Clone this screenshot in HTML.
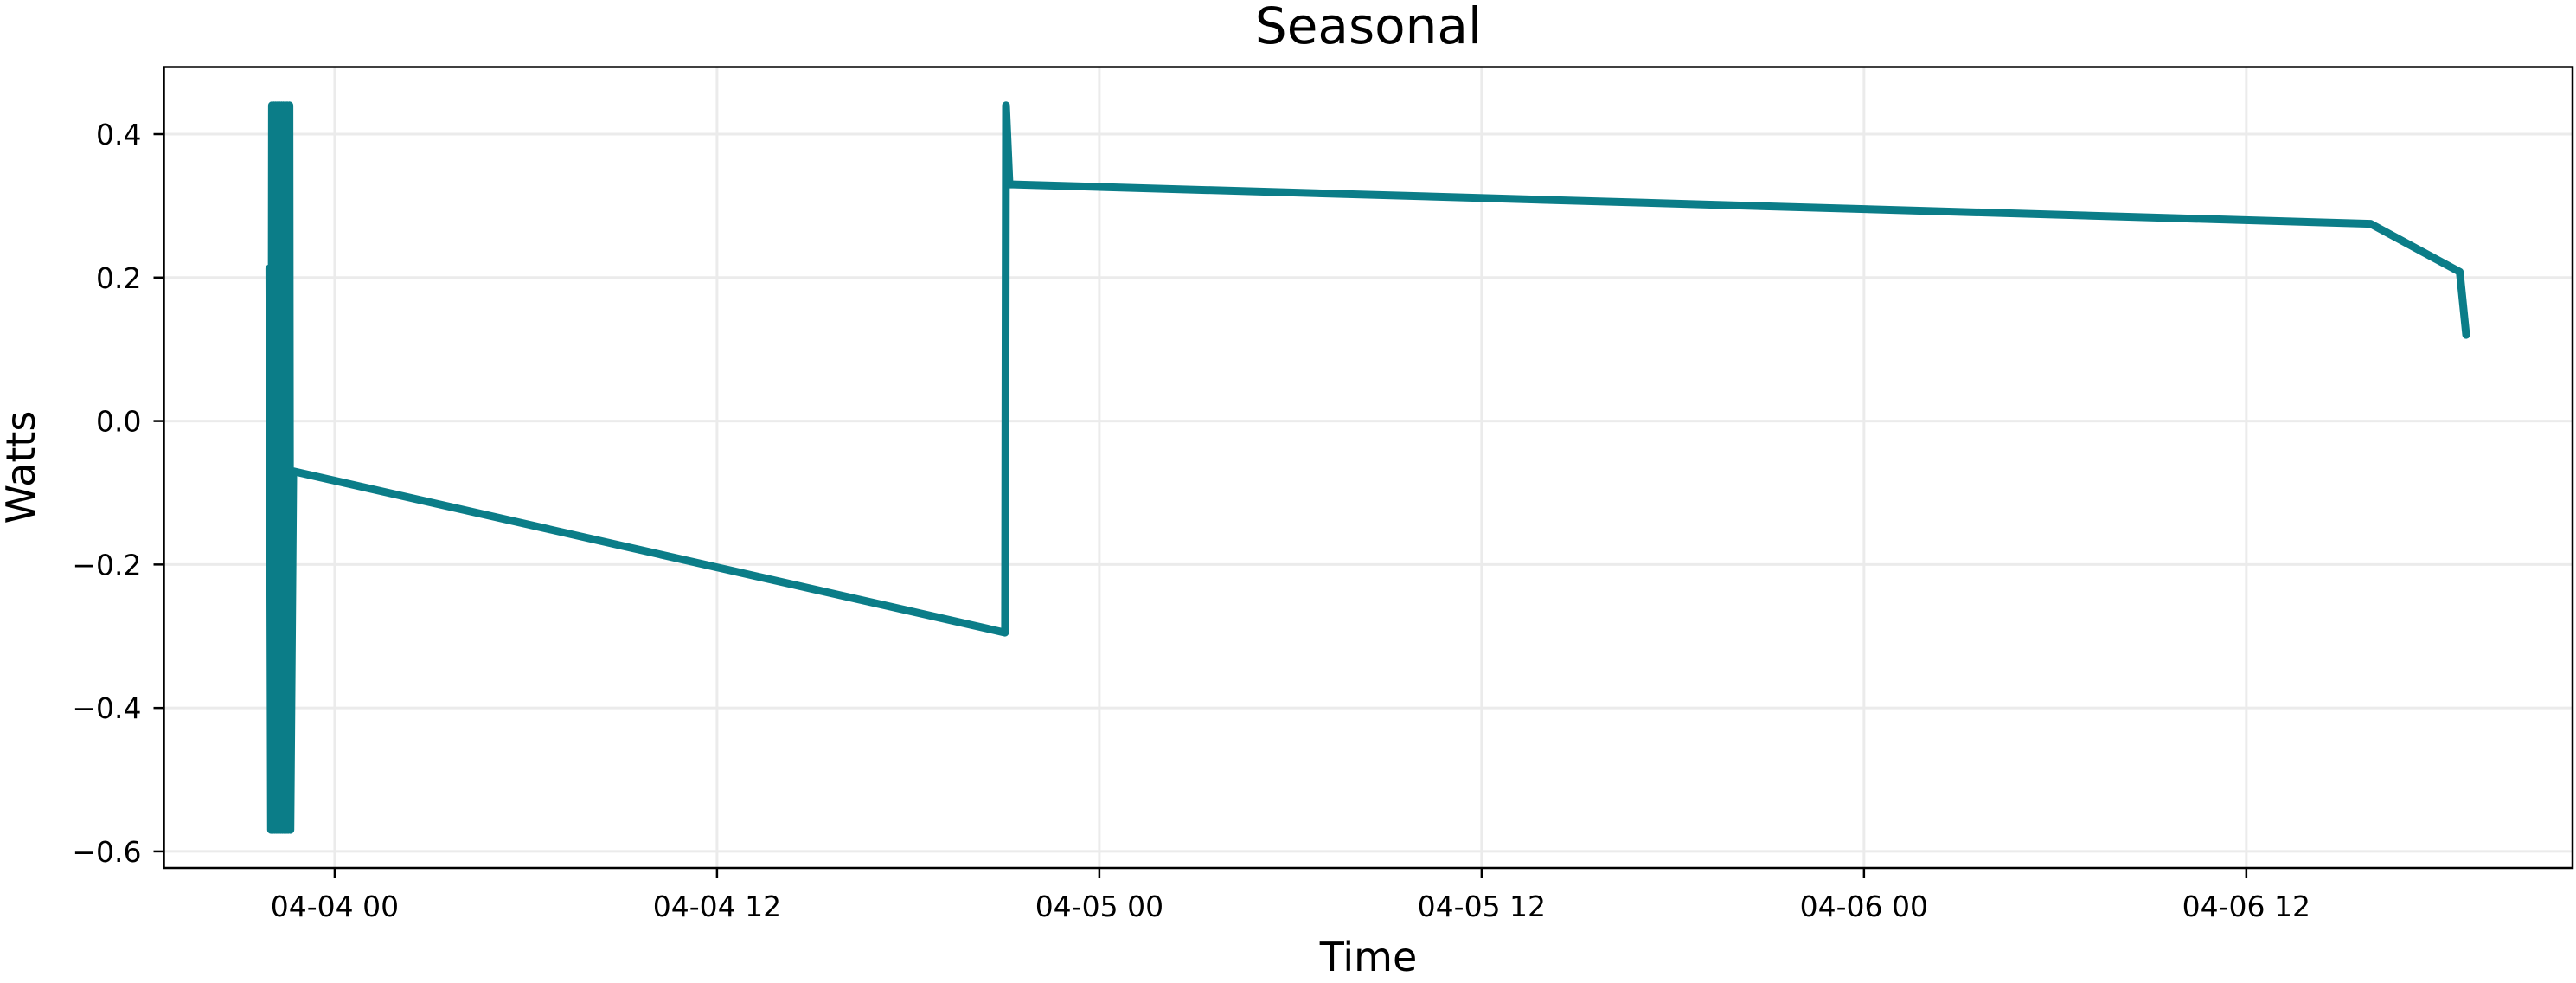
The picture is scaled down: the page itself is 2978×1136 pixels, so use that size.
<!DOCTYPE html>
<html><head><meta charset="utf-8"><style>
html,body{margin:0;padding:0;background:#fff;}
svg{display:block;font-family:"DejaVu Sans","Liberation Sans",sans-serif;}
</style></head><body>
<svg id="chart" width="2978" height="1136" viewBox="0 0 2978 1136" xmlns="http://www.w3.org/2000/svg">
<text x="1582" y="50" font-size="58" text-anchor="middle">Seasonal</text>
<g id="grid"></g>
<g id="ticks"></g>
<g id="series"></g>
<rect x="189.5" y="77.5" width="2784.5" height="925.5" fill="none" stroke="#000" stroke-width="2.5"/>
<text x="1582" y="1122" font-size="46" text-anchor="middle">Time</text>
<text x="0" y="0" font-size="46" text-anchor="middle" transform="translate(40,540) rotate(-90)">Watts</text>
</svg>
<script>
const timesH = [-2.05,-2.0,-1.97,-1.94,-1.91,-1.88,-1.85,-1.82,-1.79,-1.76,-1.73,-1.70,-1.67,-1.64,-1.61,-1.58,-1.55,-1.52,-1.49,-1.46,-1.42,-1.39,-1.30,21.04,21.07,21.18,63.9,66.7,66.9];
const values = [0.213,-0.57,0.44,-0.57,0.44,-0.57,0.44,-0.57,0.44,-0.57,0.44,-0.57,0.44,-0.57,0.44,-0.57,0.44,-0.57,0.44,-0.57,0.44,-0.57,-0.07,-0.295,0.44,0.33,0.275,0.208,0.12];
const yTicks = [0.4,0.2,0.0,-0.2,-0.4,-0.6];
const yTickLabels = ["0.4","0.2","0.0","\u22120.2","\u22120.4","\u22120.6"];
const xTicksH = [0,12,24,36,48,60];
const xTickLabels = ["04-04 00","04-04 12","04-05 00","04-05 12","04-06 00","04-06 12"];

const L=189.5,R=2974,T=77.5,B=1003;
const xMin=-5.36,xMax=70.24,yMin=-0.623,yMax=0.4935;
const sx=h=>L+(h-xMin)/(xMax-xMin)*(R-L);
const sy=v=>B-(v-yMin)/(yMax-yMin)*(B-T);
const NS="http://www.w3.org/2000/svg";
const grid=document.getElementById('grid'),ticks=document.getElementById('ticks'),series=document.getElementById('series');
function mk(tag,attrs,parent){const e=document.createElementNS(NS,tag);for(const k in attrs)e.setAttribute(k,attrs[k]);parent.appendChild(e);return e;}
yTicks.forEach((v,i)=>{
  const y=sy(v);
  const g=mk('line',{x1:L,x2:R,y1:y,y2:y,stroke:'#ebebeb','stroke-width':3},grid);
  
  
  const t=mk('line',{x1:L-12,x2:L,y1:y,y2:y,stroke:'#000','stroke-width':2.5},ticks);
  
  
  const tx=mk('text',{x:L-26,y:y+12,'font-size':33,'text-anchor':'end'},ticks);
  tx.textContent=yTickLabels[i];
  
  
});
xTicksH.forEach((h,i)=>{
  const x=sx(h);
  const g=mk('line',{x1:x,x2:x,y1:T,y2:B,stroke:'#ebebeb','stroke-width':3},grid);
  
  
  const t=mk('line',{x1:x,x2:x,y1:B,y2:B+12,stroke:'#000','stroke-width':2.5},ticks);
  
  
  const tx=mk('text',{x:x,y:B+56,'font-size':33,'text-anchor':'middle'},ticks);
  tx.textContent=xTickLabels[i];
  
  
});
const pts=timesH.map((h,i)=>sx(h).toFixed(1)+','+sy(values[i]).toFixed(1)).join(' ');
const line=mk('polyline',{points:pts,fill:'none',stroke:'#0b7d88','stroke-width':9,'stroke-linejoin':'round','stroke-linecap':'round'},series);


</script>
</body></html>
